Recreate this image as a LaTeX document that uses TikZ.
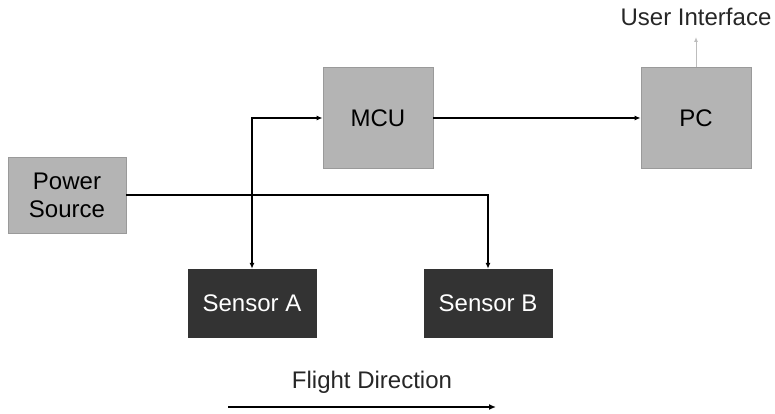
\documentclass[tikz,border=0pt]{standalone}
\usepackage{fontspec}
\setmainfont{Liberation Sans}
\usetikzlibrary{arrows.meta}
\definecolor{boxgray}{HTML}{B4B4B4}
\definecolor{boxedge}{HTML}{9A9A9A}
\definecolor{sensordark}{HTML}{333333}
\definecolor{uiarrow}{HTML}{BDBDBD}
\tikzset{
  lightbox/.style={draw=boxedge, line width=0.8pt, fill=boxgray, align=center,
    inner sep=0pt, font=\fontsize{24}{28}\selectfont},
  darkbox/.style={draw=sensordark, fill=sensordark, text=white, inner sep=0pt,
    font=\fontsize{24}{28}\selectfont},
  label/.style={inner sep=0pt, font=\fontsize{24}{28}\selectfont, text=black!85},
  link/.style={line width=1.3pt, -{Latex[length=6pt,width=5pt]}},
  both/.style={line width=1.3pt, {Latex[length=6pt,width=5pt]}-{Latex[length=6pt,width=5pt]}},
}
\begin{document}
\begin{tikzpicture}[x=1pt,y=-1pt]
  \useasboundingbox (0,0) rectangle (775,414);

  % blocks
  \node[lightbox, minimum width=118pt, minimum height=76pt] (ps) at (67,195) {Power\\Source};
  \node[lightbox, minimum width=110pt, minimum height=101pt] (mcu) at (378,118) {MCU};
  \node[lightbox, minimum width=110pt, minimum height=101pt] (pc) at (696,118) {PC};
  \node[darkbox, minimum width=128pt, minimum height=68pt] (sa) at (252,303) {Sensor A};
  \node[darkbox, minimum width=128pt, minimum height=68pt] (sb) at (488,303) {Sensor B};

  % labels
  \node[label] (ui) at (696,17) {User Interface};
  \coordinate (uitip) at (696,37);
  \node[label] (fd) at (372,382) {Flight Direction};
  \coordinate (fdstart) at (228,407);
  \coordinate (fdend) at (496,407);

  % connections
  \draw[both] (sa.north) |- (mcu.west);
  \draw[link] (ps.east) -| (sb.north);
  \draw[link] (mcu.east) -- (pc.west);
  \draw[line width=1pt, draw=uiarrow, -{Latex[length=5pt,width=4pt]}] (pc.north) -- (uitip);
  \draw[line width=2.2pt, -{Latex[length=7pt,width=6pt]}] (fdstart) -- (fdend);
\end{tikzpicture}
\end{document}
